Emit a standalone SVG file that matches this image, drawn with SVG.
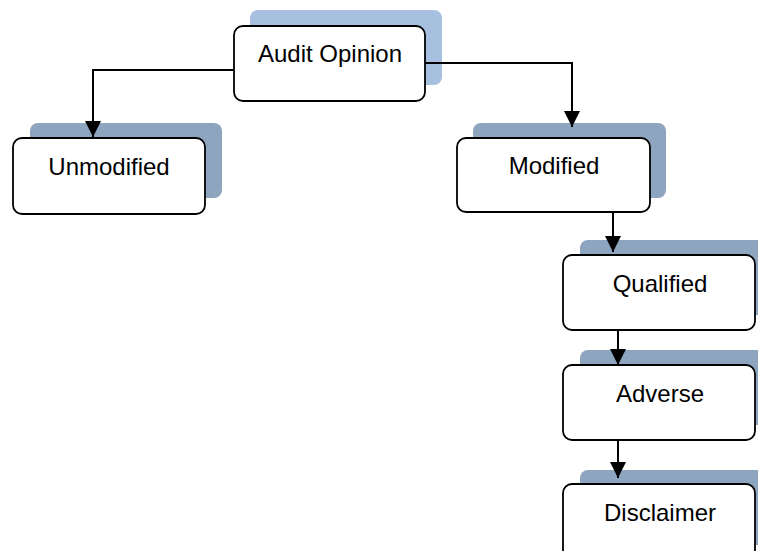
<svg xmlns="http://www.w3.org/2000/svg" width="758" height="551" viewBox="0 0 758 551">
  <style>
    .shadow { fill: #8da5bf; }
    .shadow.top { fill: #a8c0df; }
    .box { fill: #ffffff; stroke: #000000; stroke-width: 1.8; }
    .label { font-family: "Liberation Sans", Arial, sans-serif; font-size: 24px; fill: #000000; text-anchor: middle; }
    .link { fill: none; stroke: #000000; stroke-width: 2; marker-end: url(#arrow); }
  </style>
  <defs>
    <marker id="arrow" markerUnits="userSpaceOnUse" markerWidth="17" markerHeight="16" viewBox="0 0 17 16" refX="16" refY="8" orient="auto">
      <path d="M0,0 L16,8 L0,16 z" fill="#000000"/>
    </marker>
  </defs>

  <rect width="758" height="551" fill="#ffffff"/>

  <g id="audit-opinion">
    <rect class="shadow top" x="250" y="10" width="192" height="75" rx="8"/>
    <rect class="box" x="234" y="26" width="191" height="75" rx="9"/>
    <text class="label" x="330" y="62">Audit Opinion</text>
  </g>

  <g id="unmodified">
    <rect class="shadow" x="30" y="123" width="192" height="75" rx="8"/>
    <rect class="box" x="13" y="138" width="192" height="76" rx="9"/>
    <text class="label" x="109" y="175">Unmodified</text>
  </g>

  <g id="modified">
    <rect class="shadow" x="473" y="123" width="193" height="75" rx="8"/>
    <rect class="box" x="457" y="138" width="193" height="74" rx="9"/>
    <text class="label" x="554" y="174">Modified</text>
  </g>

  <g id="qualified">
    <rect class="shadow" x="580" y="240" width="192" height="75" rx="8"/>
    <rect class="box" x="563" y="255" width="192" height="75" rx="9"/>
    <text class="label" x="660" y="292">Qualified</text>
  </g>

  <g id="adverse">
    <rect class="shadow" x="580" y="350" width="192" height="75" rx="8"/>
    <rect class="box" x="563" y="365" width="192" height="75" rx="9"/>
    <text class="label" x="660" y="402">Adverse</text>
  </g>

  <g id="disclaimer">
    <rect class="shadow" x="580" y="470" width="192" height="75" rx="8"/>
    <rect class="box" x="563" y="484" width="192" height="75" rx="9"/>
    <text class="label" x="660" y="521">Disclaimer</text>
  </g>

  <g id="connectors">
    <path class="link" d="M234,70 H93 V137"/>
    <path class="link" d="M425,63 H572 V127"/>
    <path class="link" d="M613,212 V252"/>
    <path class="link" d="M618,330 V365"/>
    <path class="link" d="M618,440 V478"/>
  </g>
</svg>
